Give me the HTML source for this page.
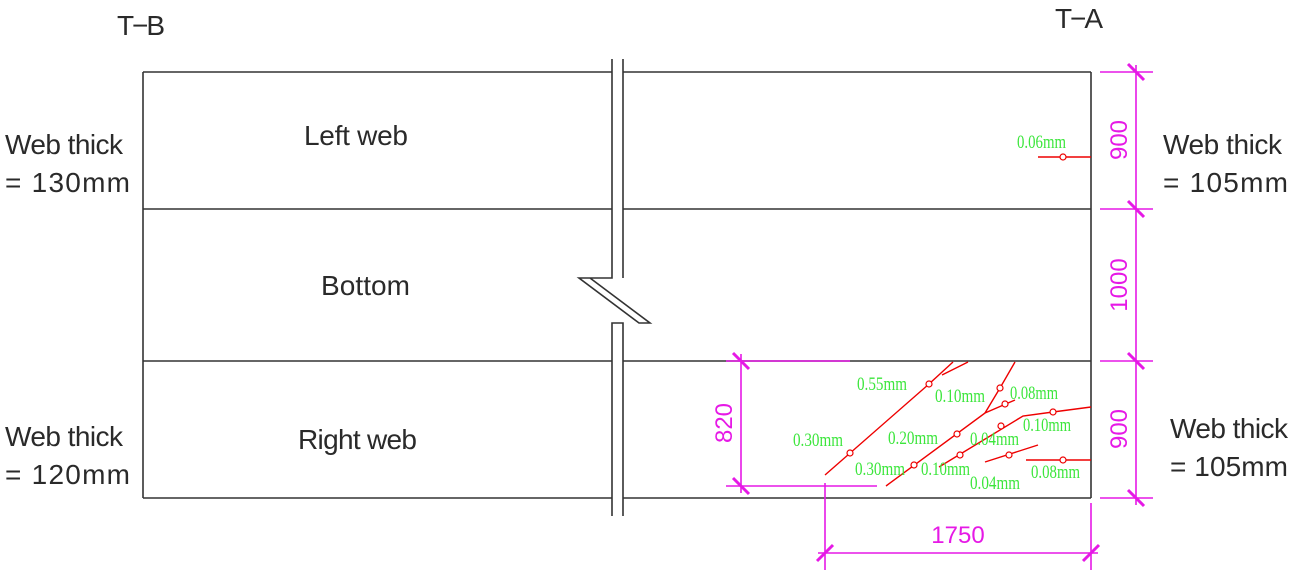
<!DOCTYPE html>
<html><head><meta charset="utf-8"><style>
html,body{margin:0;padding:0;background:#fff;}
svg{display:block;}
.b{font-family:"Liberation Sans",sans-serif;font-size:28px;fill:#2a2a2a;}
.g{font-family:"Liberation Serif",serif;font-size:19px;fill:#3ce63c;}
.m{font-family:"Liberation Sans",sans-serif;font-size:24px;fill:#e619e6;}
</style></head><body>
<svg width="1300" height="578" viewBox="0 0 1300 578" xmlns="http://www.w3.org/2000/svg">
<g stroke="#333" stroke-width="1.6" fill="none">
<line x1="143" y1="72" x2="612" y2="72"/><line x1="623" y1="72" x2="1091" y2="72"/>
<line x1="143" y1="209" x2="612" y2="209"/><line x1="623" y1="209" x2="1091" y2="209"/>
<line x1="143" y1="361" x2="612" y2="361"/><line x1="623" y1="361" x2="1091" y2="361"/>
<line x1="143" y1="498" x2="612" y2="498"/><line x1="623" y1="498" x2="1091" y2="498"/>
<line x1="143" y1="72" x2="143" y2="498"/><line x1="1091" y1="72" x2="1091" y2="498"/>
<polyline points="612,59 612,278 579,278 639,323 650,323 590,278"/>
<polyline points="623,59 623,278"/>
<polyline points="612,516 612,323 623,323 623,516"/>
</g>
<g stroke="#e00" stroke-width="1.4" fill="none">
<line x1="1038" y1="157" x2="1091" y2="157"/>
<polyline points="825,475 929,384 953,362"/><line x1="942" y1="375" x2="968" y2="362"/>
<polyline points="886,486 985,413 1015,400"/><polyline points="985,413 1000,388 1015,362"/>
<polyline points="939,467 1023,416 1053,412 1091,407"/>
<line x1="985" y1="462" x2="1038" y2="445"/>
<line x1="1026" y1="460" x2="1091" y2="460"/>
<g stroke-width="1.2" fill="#fff">
<circle cx="1063" cy="157" r="3"/><circle cx="850" cy="453" r="3"/><circle cx="929" cy="384" r="3"/>
<circle cx="914" cy="465" r="3"/><circle cx="957" cy="434" r="3"/><circle cx="1000" cy="388" r="3"/><circle cx="1005" cy="404" r="3"/>
<circle cx="960" cy="455" r="3"/><circle cx="1001" cy="426" r="3"/><circle cx="1053" cy="412" r="3"/>
<circle cx="1009" cy="455" r="3"/><circle cx="1063" cy="460" r="3"/>
</g></g>
<g stroke="#e619e6" stroke-width="1.6" fill="none">
<line x1="1100" y1="72" x2="1153" y2="72"/><line x1="1100" y1="209" x2="1153" y2="209"/>
<line x1="1100" y1="361" x2="1153" y2="361"/><line x1="1100" y1="498" x2="1153" y2="498"/>
<line x1="1136" y1="65" x2="1136" y2="505"/>
<g stroke-width="3"><line x1="1128" y1="64" x2="1144" y2="80"/><line x1="1128" y1="201" x2="1144" y2="217"/><line x1="1128" y1="353" x2="1144" y2="369"/><line x1="1128" y1="490" x2="1144" y2="506"/>
<line x1="733" y1="353" x2="749" y2="369"/><line x1="733" y1="478" x2="749" y2="494"/>
<line x1="817" y1="561" x2="833" y2="545"/><line x1="1083" y1="561" x2="1099" y2="545"/></g>
<line x1="726" y1="361" x2="850" y2="361"/><line x1="726" y1="486" x2="877" y2="486"/>
<line x1="741" y1="354" x2="741" y2="493"/>
<line x1="825" y1="483" x2="825" y2="570"/><line x1="1091" y1="503" x2="1091" y2="570"/>
<line x1="818" y1="553" x2="1098" y2="553"/>
</g>
<text class="m" transform="translate(1127,140) rotate(-90)" text-anchor="middle">900</text>
<text class="m" transform="translate(1127,285) rotate(-90)" text-anchor="middle">1000</text>
<text class="m" transform="translate(1127,429) rotate(-90)" text-anchor="middle">900</text>
<text class="m" transform="translate(732,423) rotate(-90)" text-anchor="middle">820</text>
<text class="m" x="958" y="543" text-anchor="middle">1750</text>
<text class="b" x="117" y="35" textLength="48">T−B</text>
<text class="b" x="1055" y="28" textLength="48">T−A</text>
<text class="b" x="304" y="145" textLength="104">Left web</text>
<text class="b" x="321" y="295" textLength="89">Bottom</text>
<text class="b" x="298" y="449" textLength="119">Right web</text>
<text class="b" x="5" y="154" textLength="118">Web thick</text>
<text class="b" x="5" y="192" textLength="125">= 130mm</text>
<text class="b" x="5" y="446" textLength="118">Web thick</text>
<text class="b" x="5" y="484" textLength="125">= 120mm</text>
<text class="b" x="1163" y="154" textLength="119">Web thick</text>
<text class="b" x="1163" y="192" textLength="125">= 105mm</text>
<text class="b" x="1170" y="438" textLength="118">Web thick</text>
<text class="b" x="1170" y="476" textLength="118">= 105mm</text>
<g class="g">
<text x="1017" y="148" textLength="49" lengthAdjust="spacingAndGlyphs">0.06mm</text>
<text x="857" y="390" textLength="50" lengthAdjust="spacingAndGlyphs">0.55mm</text>
<text x="935" y="402" textLength="50" lengthAdjust="spacingAndGlyphs">0.10mm</text>
<text x="1010" y="399" textLength="48" lengthAdjust="spacingAndGlyphs">0.08mm</text>
<text x="1023" y="431" textLength="48" lengthAdjust="spacingAndGlyphs">0.10mm</text>
<text x="793" y="446" textLength="50" lengthAdjust="spacingAndGlyphs">0.30mm</text>
<text x="888" y="444" textLength="50" lengthAdjust="spacingAndGlyphs">0.20mm</text>
<text x="970" y="445" textLength="49" lengthAdjust="spacingAndGlyphs">0.04mm</text>
<text x="855" y="475" textLength="50" lengthAdjust="spacingAndGlyphs">0.30mm</text>
<text x="921" y="475" textLength="49" lengthAdjust="spacingAndGlyphs">0.10mm</text>
<text x="970" y="489" textLength="50" lengthAdjust="spacingAndGlyphs">0.04mm</text>
<text x="1031" y="478" textLength="49" lengthAdjust="spacingAndGlyphs">0.08mm</text>
</g>
</svg>
</body></html>
